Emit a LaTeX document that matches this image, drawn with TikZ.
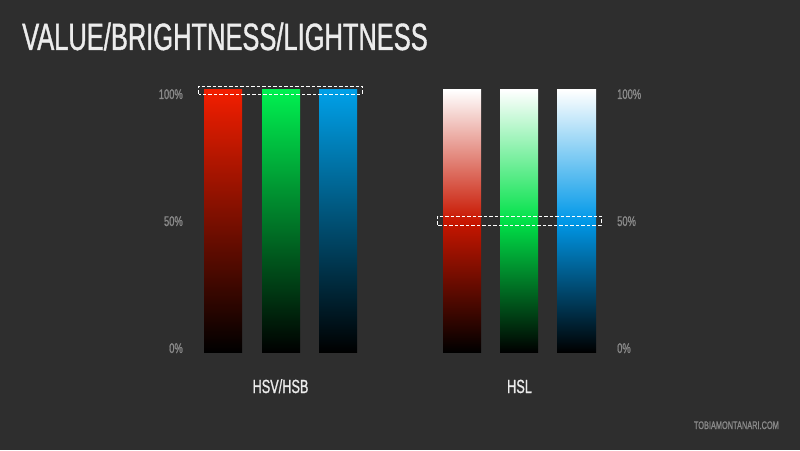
\documentclass[tikz,border=0pt]{standalone}
\usepackage{fontspec}
\setmainfont{Liberation Sans}
\newfontfamily\cond[FakeStretch=0.67,FakeBold=1]{Liberation Sans}
\definecolor{bg}{RGB}{46,46,46}
\definecolor{txt}{RGB}{236,236,236}
\definecolor{dim}{RGB}{138,138,138}
\definecolor{cR}{RGB}{242,30,0}
\definecolor{cG}{RGB}{0,240,80}
\definecolor{cB}{RGB}{0,160,232}
\definecolor{mR}{RGB}{200,22,0}
\definecolor{mG}{RGB}{0,225,72}
\definecolor{mB}{RGB}{0,152,232}
\tikzset{
  pct/.style={text=dim,font=\cond\fontsize{14}{14}\selectfont,inner sep=0pt},
  captext/.style={text=txt,font=\cond\fontsize{19}{19}\selectfont,inner sep=0pt,anchor=base},
  selbox/.style={draw=white,dashed,dash pattern=on 3.5pt off 2pt,line width=0.8pt}
}
\begin{document}
\begin{tikzpicture}[x=1pt,y=1pt]
\useasboundingbox[fill=bg] (0,0) rectangle (800,450);
\node[anchor=base west,inner sep=0pt,text=txt,font=\cond\fontsize{38}{38}\selectfont] (title) at (22,400) {VALUE/BRIGHTNESS/LIGHTNESS};
% HSV bars
\shade[top color=cR,bottom color=black] (204,98) rectangle (242,360);
\shade[top color=cG,bottom color=black] (262,98) rectangle (300,360);
\shade[top color=cB,bottom color=black] (319,98) rectangle (357,360);
% HSL bars
\shade[top color=white,bottom color=black,middle color=mR] (443,98) rectangle (481,360);
\shade[top color=white,bottom color=black,middle color=mG] (500,98) rectangle (538,360);
\shade[top color=white,bottom color=black,middle color=mB] (557,98) rectangle (596,360);
% selection boxes
\draw[selbox] (198.5,356) rectangle (362,364);
\draw[selbox] (437.5,225) rectangle (601,234);
% percentage labels
\node[pct,anchor=base east] (l100) at (183,351) {100\%};
\node[pct,anchor=base east] (l50) at (183,224) {50\%};
\node[pct,anchor=base east] (l0) at (183,97) {0\%};
\node[pct,anchor=base west] (r100) at (617,351) {100\%};
\node[pct,anchor=base west] (r50) at (617,224) {50\%};
\node[pct,anchor=base west] (r0) at (617,97) {0\%};
% captions
\node[captext] (hsv) at (280.5,57) {HSV/HSB};
\node[captext] (hsl) at (519.5,57) {HSL};
\node[anchor=base east,inner sep=0pt,text=dim,font=\cond\fontsize{11}{11}\selectfont] (wm) at (779,21) {TOBIAMONTANARI.COM};
\end{tikzpicture}
\end{document}
